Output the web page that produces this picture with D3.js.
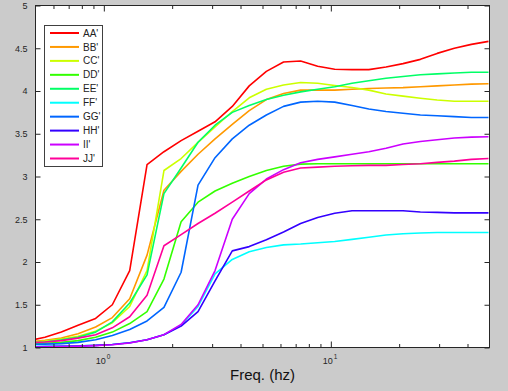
<!DOCTYPE html>
<html lang="en">
<head>
<meta charset="UTF-8">
<title>Freq response</title>
<script src="https://d3js.org/d3.v7.min.js"></script>
<style>
  body, html { margin: 0; padding: 0; background: #cbcbcb; }
  svg { display: block; font-family: Arial, 'Liberation Sans', sans-serif; }
</style>
</head>
<body>
<svg width="508" height="391"></svg>
<script>
// frequency samples (hz), shared by all series
const freqs = [0.46, 0.55, 0.65, 0.77, 0.92, 1.09, 1.30, 1.55, 1.84, 2.19, 2.60, 3.09, 3.68, 4.37,
               5.20, 6.19, 7.36, 8.75, 10.4, 12.4, 14.7, 17.5, 20.8, 24.8, 29.4, 35.0, 41.6, 49.5];

const names = ["AA'", "BB'", "CC'", "DD'", "EE'", "FF'", "GG'", "HH'", "II'", "JJ'"];
const colors = ['#ff0000', '#ff9900', '#ccff00', '#33ff00', '#00ff66',
                '#00ffff', '#0066ff', '#3300ff', '#cc00ff', '#ff0099'];

const AA = [1.075,1.12,1.18,1.26,1.34,1.50,1.90,3.14,3.29,3.42,3.53,3.64,3.82,4.06,4.23,4.34,4.35,4.29,4.255,4.25,4.25,4.28,4.32,4.37,4.44,4.50,4.545,4.58];
const BB = [1.065,1.085,1.11,1.16,1.24,1.35,1.57,2.08,2.84,3.06,3.26,3.44,3.61,3.77,3.90,3.97,4.01,4.01,4.01,4.02,4.03,4.035,4.04,4.05,4.06,4.07,4.08,4.085];
const CC = [1.06,1.075,1.10,1.13,1.19,1.29,1.48,1.90,3.07,3.21,3.40,3.58,3.76,3.92,4.02,4.07,4.10,4.09,4.065,4.04,4.01,3.965,3.94,3.915,3.895,3.88,3.88,3.88];
const DD = [1.045,1.05,1.06,1.08,1.12,1.18,1.28,1.42,1.80,2.47,2.70,2.83,2.92,3.00,3.07,3.12,3.145,3.15,3.15,3.15,3.15,3.15,3.15,3.15,3.15,3.15,3.15,3.15];
const EE = [1.05,1.065,1.09,1.12,1.18,1.30,1.52,1.85,2.80,3.10,3.40,3.60,3.75,3.83,3.90,3.95,3.99,4.02,4.05,4.09,4.12,4.15,4.17,4.19,4.20,4.21,4.22,4.22];
const FF = [1.012,1.014,1.016,1.02,1.025,1.035,1.055,1.09,1.15,1.26,1.48,1.86,2.03,2.12,2.17,2.20,2.21,2.225,2.24,2.265,2.29,2.315,2.33,2.34,2.345,2.345,2.345,2.345];
const GG = [1.035,1.04,1.045,1.06,1.09,1.14,1.21,1.31,1.47,1.88,2.90,3.22,3.44,3.60,3.72,3.82,3.87,3.88,3.87,3.83,3.79,3.76,3.74,3.72,3.71,3.70,3.69,3.69];
const HH = [1.008,1.01,1.013,1.018,1.025,1.035,1.055,1.09,1.15,1.25,1.42,1.78,2.13,2.18,2.26,2.35,2.45,2.52,2.57,2.60,2.60,2.60,2.60,2.585,2.58,2.575,2.575,2.575];
const II = [1.004,1.006,1.01,1.015,1.022,1.033,1.053,1.09,1.15,1.27,1.50,1.90,2.50,2.80,2.97,3.08,3.16,3.20,3.23,3.26,3.29,3.33,3.38,3.41,3.43,3.45,3.46,3.465];
const JJ = [1.055,1.065,1.08,1.11,1.15,1.23,1.36,1.61,2.19,2.32,2.45,2.57,2.70,2.83,2.96,3.05,3.10,3.11,3.12,3.125,3.13,3.13,3.14,3.15,3.165,3.18,3.20,3.21];

const yTicks = [1, 1.5, 2, 2.5, 3, 3.5, 4, 4.5, 5];
const xMajor = [1, 10];
const xMinor = [0.6, 0.7, 0.8, 0.9, 2, 3, 4, 5, 6, 7, 8, 9, 20, 30, 40];
const xLabel = 'Freq. (hz)';

const series = [AA, BB, CC, DD, EE, FF, GG, HH, II, JJ];

const svg = d3.select('svg');
const pLeft = 35.5, pRight = 489.5, pTop = 5.5, pBottom = 347.5;

const x = d3.scaleLog().domain([0.5, 50]).range([pLeft, pRight]);
const y = d3.scaleLinear().domain([1, 5]).range([pBottom, pTop]);

// plot area
svg.append('rect')
    .attr('x', pLeft).attr('y', pTop)
    .attr('width', pRight - pLeft).attr('height', pBottom - pTop)
    .attr('fill', '#ffffff');

svg.append('clipPath').attr('id', 'clip')
  .append('rect')
    .attr('x', pLeft).attr('y', pTop)
    .attr('width', pRight - pLeft).attr('height', pBottom - pTop);

const line = d3.line()
    .x((d, i) => x(freqs[i]))
    .y(d => y(d));

svg.append('g').attr('clip-path', 'url(#clip)')
  .selectAll('path')
  .data(series)
  .join('path')
    .attr('d', line)
    .attr('fill', 'none')
    .attr('stroke', (d, i) => colors[i])
    .attr('stroke-width', 1.6)
    .attr('stroke-linejoin', 'round');

// axes (ticks pointing inward, box style)
const ink = '#262626';
const yLeft = svg.append('g').attr('transform', `translate(${pLeft},0)`)
    .call(d3.axisLeft(y).tickValues(yTicks).tickSize(-5).tickPadding(8).tickFormat(d => String(d)));
const yRight = svg.append('g').attr('transform', `translate(${pRight},0)`)
    .call(d3.axisRight(y).tickValues(yTicks).tickSize(-5).tickFormat(''));

const xBotMinor = svg.append('g').attr('transform', `translate(0,${pBottom})`)
    .call(d3.axisBottom(x).tickValues(xMinor).tickSize(-3.5).tickFormat(''));
const xBotMajor = svg.append('g').attr('transform', `translate(0,${pBottom})`)
    .call(d3.axisBottom(x).tickValues(xMajor).tickSize(-6).tickFormat(''));
const xTopMinor = svg.append('g').attr('transform', `translate(0,${pTop})`)
    .call(d3.axisTop(x).tickValues(xMinor).tickSize(-3.5).tickFormat(''));
const xTopMajor = svg.append('g').attr('transform', `translate(0,${pTop})`)
    .call(d3.axisTop(x).tickValues(xMajor).tickSize(-6).tickFormat(''));

[yLeft, yRight, xBotMinor, xBotMajor, xTopMinor, xTopMajor].forEach(g => {
  g.select('.domain').remove();
  g.selectAll('line').attr('stroke', ink);
  g.selectAll('text').attr('fill', ink).style('font-size', '9px').style('font-family', 'Arial, sans-serif');
});

// axes frame
svg.append('rect')
    .attr('x', pLeft).attr('y', pTop)
    .attr('width', pRight - pLeft).attr('height', pBottom - pTop)
    .attr('fill', 'none').attr('stroke', ink).attr('stroke-width', 1);

// decade labels 10^n
svg.append('g').selectAll('text')
  .data(xMajor)
  .join('text')
    .attr('x', d => x(d) + 2)
    .attr('y', pBottom + 16)
    .attr('text-anchor', 'end')
    .attr('fill', ink)
    .style('font-size', '9px')
    .text('10');
svg.append('g').selectAll('text')
  .data(xMajor)
  .join('text')
    .attr('x', d => x(d) + 3)
    .attr('y', pBottom + 11.5)
    .attr('fill', ink)
    .style('font-size', '6.5px')
    .text(d => Math.round(Math.log10(d)));

svg.append('text')
    .attr('x', (pLeft + pRight) / 2)
    .attr('y', 380)
    .attr('text-anchor', 'middle')
    .attr('fill', '#111')
    .style('font-size', '15px')
    .text(xLabel);

// legend
const lg = svg.append('g').attr('transform', 'translate(44.5,25.5)');
lg.append('rect')
    .attr('width', 58).attr('height', 141)
    .attr('fill', '#ffffff').attr('stroke', '#404040').attr('stroke-width', 1);
const rowY = d3.scalePoint().domain(names).range([7.5, 133]);
const item = lg.selectAll('g.item')
  .data(names)
  .join('g')
    .attr('class', 'item')
    .attr('transform', d => `translate(0,${rowY(d)})`);
item.append('line')
    .attr('x1', 5.5).attr('x2', 34.5)
    .attr('stroke', (d, i) => colors[i])
    .attr('stroke-width', 2);
item.append('text')
    .attr('x', 38.5).attr('y', 3.6)
    .attr('fill', '#222')
    .style('font-size', '10px')
    .text(d => d);
</script>
</body>
</html>
